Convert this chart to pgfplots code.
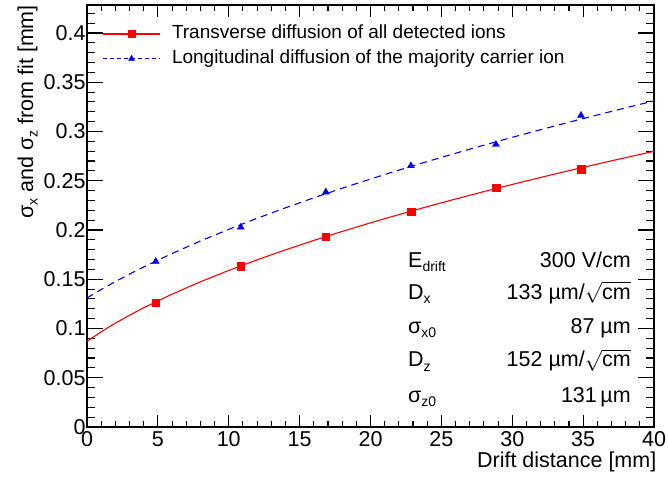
\documentclass[border=0pt]{standalone}
\usepackage{pgfplots}
\pgfplotsset{compat=1.18}
\usepackage{fontspec}
\setmainfont{Liberation Sans}

\newcommand{\lbl}{\fontsize{21.5}{24}\selectfont}
\newcommand{\sub}[1]{\raisebox{-4.5pt}{\fontsize{14}{14}\selectfont #1}}

\pgfplotsset{
    rootframe/.style={
        scale only axis,
        width=567pt, height=422pt,
        xmin=0, xmax=40, ymin=0, ymax=0.4284,
        tick align=inside,
        axis line style={line width=1.2pt},
        tick style={line width=1.1pt, black},
        scaled ticks=false,
        ticklabel style={font=\lbl},
    },
}

\begin{document}
\begin{tikzpicture}
% x ticks (shorter than the y ticks)
\begin{axis}[
    rootframe,
    xtick={0,5,10,15,20,25,30,35,40},
    xticklabels={0,5,10,15,20,25,30,35,40},
    minor xtick={1,...,39},
    ytick=\empty,
    major tick length=12pt, minor tick length=6pt,
    xticklabel style={yshift=-1pt},
    xlabel={Drift distance [mm]},
    xlabel style={at={(axis description cs:1,0)}, anchor=base east,
        inner sep=0pt, xshift=2.5pt, yshift=-40pt, font=\lbl},
]
\end{axis}

\begin{axis}[
    rootframe,
    xtick=\empty,
    ytick={0,0.05,0.1,0.15,0.2,0.25,0.3,0.35,0.4},
    yticklabels={0,0.05,0.1,0.15,0.2,0.25,0.3,0.35,0.4},
    minor ytick={0.01,0.02,0.03,0.04,0.06,0.07,0.08,0.09,0.11,0.12,0.13,0.14,
        0.16,0.17,0.18,0.19,0.21,0.22,0.23,0.24,0.26,0.27,0.28,0.29,
        0.31,0.32,0.33,0.34,0.36,0.37,0.38,0.39,0.41,0.42},
    major tick length=16pt, minor tick length=8pt,
    yticklabel style={xshift=2pt},
    ylabel={σ\sub{x} and σ\sub{z} from fit [mm]},
    ylabel style={at={(axis description cs:-0.0952,1)}, anchor=base east,
        inner sep=0pt, font=\lbl},
    legend style={at={(axis description cs:0,1)}, anchor=north west,
        xshift=15pt, yshift=-18.5pt, draw=none, fill=none, inner sep=0pt,
        font=\fontsize{19}{22}\selectfont, row sep=5pt, column sep=10pt,
        nodes={inner sep=1pt, text height=14pt, text depth=4pt}},
    legend cell align=left,
]
% fit curves
\addplot[red, line width=1.1pt, forget plot] coordinates {
    (0,0.0870) (1,0.09663) (2,0.10539) (3,0.11347) (4,0.12101) (6,0.13484)
    (8,0.14738) (10,0.15893) (12,0.16969) (14,0.17982) (16,0.18940)
    (18,0.19852) (20,0.20724) (22,0.21560) (24,0.22366) (26,0.23143)
    (28,0.23895) (30,0.24624) (32,0.25333) (34,0.26021) (36,0.26693)
    (38,0.27347) (40,0.27987)
};
\addplot[blue, line width=1.1pt, dash pattern=on 7pt off 5pt, forget plot] coordinates {
    (0,0.1310) (1,0.13954) (2,0.14759) (3,0.15522) (4,0.16249) (6,0.17614)
    (8,0.18880) (10,0.20066) (12,0.21186) (14,0.22250) (16,0.23265)
    (18,0.24238) (20,0.25173) (22,0.26075) (24,0.26946) (26,0.27790)
    (28,0.28610) (30,0.29406) (32,0.30182) (34,0.30938) (36,0.31676)
    (38,0.32397) (40,0.33102)
};
% measured points
\addplot[red, only marks, mark=square*, mark size=3.8pt, forget plot] coordinates {
    (4.85,0.1262) (10.85,0.1635) (16.85,0.1930) (22.85,0.2186) (28.85,0.2428) (34.85,0.2619)
};
\addplot[blue, only marks, mark=triangle*, mark size=4pt, forget plot] coordinates {
    (4.85,0.1680) (10.85,0.2028) (16.85,0.2385) (22.85,0.2652) (28.85,0.2868) (34.85,0.3163)
};

\addlegendimage{legend image code/.code={
    \draw[red, line width=1.8pt] (0pt,0pt) -- (57pt,0pt);
    \draw[red, mark=square*, mark size=3.8pt] plot coordinates {(28.5pt,0pt)};}}
\addlegendentry{Transverse diffusion of all detected ions}
\addlegendimage{legend image code/.code={
    \draw[blue, line width=1.5pt, dash pattern=on 4pt off 3pt] (0pt,0pt) -- (57pt,0pt);
    \draw[blue, mark=triangle*, mark size=3.5pt] plot coordinates {(28.5pt,0pt)};}}
\addlegendentry{Longitudinal diffusion of the majority carrier ion}

% fit parameters
\begin{scope}[every node/.style={font=\lbl, inner sep=0pt}]
\node[anchor=base west] at (axis description cs:0.5661,0.3791) {E\sub{drift}};
\node[anchor=base east] at (axis description cs:0.9594,0.3791) {300 V/cm};
\node[anchor=base west] at (axis description cs:0.5661,0.3033) {D\sub{x}};
\node[anchor=base east] at (axis description cs:0.9594,0.3033) {133 µm/$\sqrt{\mbox{cm}}$};
\node[anchor=base west] at (axis description cs:0.5661,0.2227) {σ\sub{x0}};
\node[anchor=base east] at (axis description cs:0.9594,0.2227) {87 µm};
\node[anchor=base west] at (axis description cs:0.5661,0.1422) {D\sub{z}};
\node[anchor=base east] at (axis description cs:0.9594,0.1422) {152 µm/$\sqrt{\mbox{cm}}$};
\node[anchor=base west] at (axis description cs:0.5661,0.0592) {σ\sub{z0}};
\node[anchor=base east] at (axis description cs:0.9594,0.0592) {131\,µm};
\end{scope}
\end{axis}
\pgfresetboundingbox
\path[use as bounding box] (-87pt,-52pt) rectangle (581pt,427pt);
\end{tikzpicture}
\end{document}
